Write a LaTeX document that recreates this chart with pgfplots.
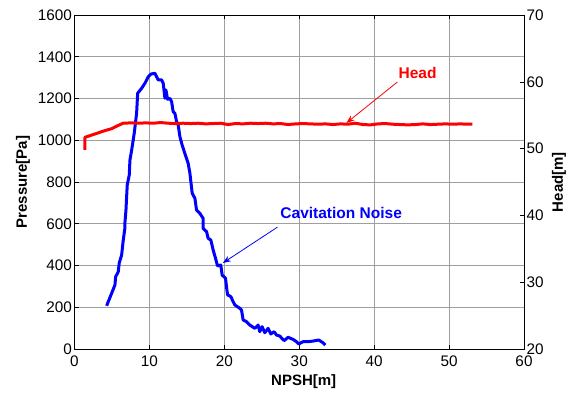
\documentclass[border=0pt]{standalone}
\usepackage{pgfplots}
\pgfplotsset{compat=1.18}
\usepackage{fontspec}
\setmainfont{Liberation Sans}
\usetikzlibrary{arrows.meta}
\begin{document}
\begin{tikzpicture}
\path[use as bounding box] (-74.5pt,-45pt) rectangle (494.5pt,349pt);
\pgfplotsset{
  every tick label/.append style={font=\fontsize{15.3}{18}\selectfont},
  /pgf/number format/assume math mode=true,
  /pgf/number format/1000 sep={},
}
\begin{axis}[
  at={(0pt,0pt)}, anchor=south west,
  width=449.5pt, height=334pt, scale only axis,
  xmin=0, xmax=60, ymin=0, ymax=1600,
  xtick={0,10,...,60}, ytick={0,200,...,1600},
  xtick pos=both, ytick pos=left,
  tick align=inside, major tick length=4pt,
  grid=major,
  major grid style={gray!75, line width=0.7pt},
  axis line style={black, line width=0.8pt},
  every tick/.style={black, line width=0.6pt},
  xticklabel style={yshift=-3pt},
  yticklabel style={xshift=1pt},
  xlabel={NPSH[m]}, ylabel={Pressure[Pa]},
  xlabel style={font=\bfseries\fontsize{15}{18}\selectfont, at={(axis description cs:0.51,-0.099)}, anchor=center},
  ylabel style={font=\bfseries\fontsize{15}{18}\selectfont, at={(axis description cs:-0.1146,0.5)}, anchor=center, rotate=0},
  clip=false,
]
\addplot[blue, line width=3pt, line join=round] coordinates {
(4.29,207) (4.96,267) (5.40,307) (5.49,346) (5.84,370) (5.97,412) (6.29,450)
(6.51,522) (6.73,580) (6.73,604) (6.87,666) (6.96,730) (7.04,786) (7.31,834)
(7.40,905) (7.63,953) (7.97,1033) (8.29,1129) (8.43,1225) (8.96,1249)
(9.40,1273) (9.84,1304) (10.20,1317) (10.73,1321) (10.96,1304) (11.17,1289)
(11.63,1289) (11.84,1273) (12.07,1201) (12.20,1241) (12.43,1196) (12.73,1201)
(12.96,1185) (13.17,1137) (13.40,1129) (13.63,1089) (13.84,1073) (14.07,1017)
(14.37,977) (14.73,937) (15.17,890) (15.40,843) (15.71,746) (16.07,722)
(16.29,666) (16.73,650) (17.17,626) (17.17,578) (17.63,562) (17.84,530)
(18.20,522) (18.51,474) (18.83,434) (19.09,398) (19.53,402) (19.71,354)
(20.16,339) (20.29,298) (20.43,259) (20.87,251) (21.17,227) (21.40,211)
(22.07,195) (22.29,187) (22.51,139) (22.96,131) (23.40,115) (24.07,99)
(24.51,115) (24.73,83) (25.04,107) (25.40,78) (25.84,99) (26.20,72)
(26.64,83) (26.96,67) (27.40,62) (27.97,40) (28.51,56) (29.17,46)
(29.63,35) (29.93,24) (30.51,35) (31.17,35) (31.84,38) (32.60,43)
(33.17,30) (33.49,19)
};
\draw[blue, line width=0.8pt, -{Stealth[length=8pt,width=6pt]}] (axis cs:27.1,584) -- (axis cs:19.8,412);
\node[blue, font=\bfseries\fontsize{15.5}{18}\selectfont, anchor=center] at (axis cs:35.6,651) {Cavitation Noise};
\draw[red, line width=0.8pt, -{Stealth[length=8pt,width=6pt]}] (axis cs:43.1,1279) -- (axis cs:36.3,1083);
\node[red, font=\bfseries\fontsize{15.5}{18}\selectfont, anchor=center] at (axis cs:45.8,1322) {Head};
\end{axis}
\begin{axis}[
  at={(0pt,0pt)}, anchor=south west,
  width=449.5pt, height=334pt, scale only axis,
  xmin=0, xmax=60, ymin=20, ymax=70,
  ytick={20,30,...,70},
  axis x line=none, axis y line*=right,
  ytick pos=right,
  tick align=inside, major tick length=4pt,
  axis line style={black, line width=0.8pt},
  every tick/.style={black, line width=0.6pt},
  yticklabel style={xshift=-1pt},
  ylabel={Head[m]},
  ylabel style={font=\bfseries\fontsize{15}{18}\selectfont, at={(axis description cs:1.078,0.5)}, anchor=center, rotate=0},
]
\addplot[red, line width=3pt, line join=round] coordinates {
(1.4,49.8) (1.4,51.7) (2.5,52.1) (3.8,52.6) (5.0,53.0) (5.7,53.4) (6.5,53.8)
(7.5,53.85) (8.5,53.8) (9.5,53.85) (10.5,53.8) (11.5,53.9) (12.5,53.8)
(13.5,53.75) (14.5,53.8) (15.5,53.75) (16.5,53.8) (17.5,53.7) (18.5,53.75)
(19.5,53.8) (20.5,53.6) (21.5,53.75) (22.5,53.7) (23.5,53.8) (24.5,53.75)
(25.5,53.8) (26.5,53.7) (27.5,53.75) (28.5,53.6) (29.5,53.7) (30.5,53.75)
(31.5,53.7) (32.5,53.65) (33.5,53.7) (34.5,53.6) (35.5,53.7) (36.5,53.65)
(37.5,53.8) (38.5,53.6) (39.5,53.55) (40.5,53.7) (41.5,53.75) (42.5,53.65)
(43.5,53.6) (44.5,53.55) (45.5,53.6) (46.5,53.7) (47.5,53.6) (48.5,53.65)
(49.5,53.7) (50.5,53.65) (51.5,53.7) (52.5,53.65) (53.1,53.65)
};
\end{axis}
\end{tikzpicture}
\end{document}
